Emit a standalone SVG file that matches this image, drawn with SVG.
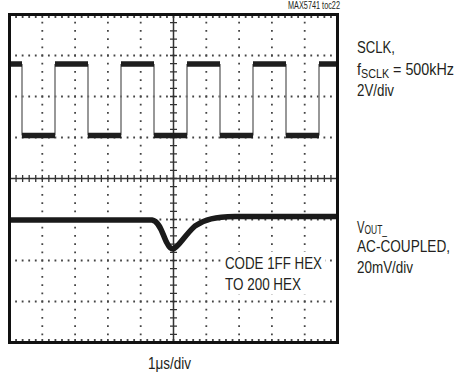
<svg xmlns="http://www.w3.org/2000/svg" width="458" height="377" viewBox="0 0 458 377">
<style>
.t{font-family:"Liberation Sans",Arial,sans-serif;font-size:16px;fill:#231f20}
.grid{stroke:#444;stroke-width:1.8;fill:none}
.gh{stroke-dasharray:1.8 4.76;stroke-dashoffset:0.9}
.gv{stroke-dasharray:1.8 6.4;stroke-dashoffset:0.9}
.axis{stroke:#333;stroke-width:1.5;fill:none}
.band{stroke:#1e1e1e;stroke-width:5.5;fill:none;stroke-linecap:butt}
.edge{stroke:#777;stroke-width:1.5;fill:none}
</style>
<rect width="458" height="377" fill="#fff"/>
<g id="grid">
<g class="grid gh">
<line x1="9.5" y1="55.5" x2="337.5" y2="55.5"/>
<line x1="9.5" y1="96.5" x2="337.5" y2="96.5"/>
<line x1="9.5" y1="137.5" x2="337.5" y2="137.5"/>
<line x1="9.5" y1="219.5" x2="337.5" y2="219.5"/>
<line x1="9.5" y1="260.5" x2="337.5" y2="260.5"/>
<line x1="9.5" y1="301.5" x2="337.5" y2="301.5"/>
<line x1="9.5" y1="17" x2="337.5" y2="17"/>
<line x1="9.5" y1="340" x2="337.5" y2="340"/>
</g>
<g class="grid gv">
<line x1="42.3" y1="14.5" x2="42.3" y2="342.5"/>
<line x1="75.1" y1="14.5" x2="75.1" y2="342.5"/>
<line x1="107.9" y1="14.5" x2="107.9" y2="342.5"/>
<line x1="140.7" y1="14.5" x2="140.7" y2="342.5"/>
<line x1="206.3" y1="14.5" x2="206.3" y2="342.5"/>
<line x1="239.1" y1="14.5" x2="239.1" y2="342.5"/>
<line x1="271.9" y1="14.5" x2="271.9" y2="342.5"/>
<line x1="304.7" y1="14.5" x2="304.7" y2="342.5"/>
</g>
</g>
<g id="axes">
<line class="axis" x1="173.5" y1="14.5" x2="173.5" y2="342.5"/>
<line class="axis" x1="9.5" y1="178.5" x2="337.5" y2="178.5"/>
<line x1="173.5" y1="14.5" x2="173.5" y2="342.5" stroke="#333" stroke-width="7" stroke-dasharray="1.3 6.9" stroke-dashoffset="0.65"/>
<line x1="9.5" y1="178.5" x2="337.5" y2="178.5" stroke="#333" stroke-width="7" stroke-dasharray="1.3 5.26" stroke-dashoffset="0.65"/>
</g>
<g id="sclk-trace">
<path class="edge" d="M22,64V135.5M55,64V135.5M88,64V135.5M121,64V135.5M154,64V135.5M187,64V135.5M220,64V135.5M253,64V135.5M286,64V135.5M319,64V135.5"/>
<path class="band" d="M10,64H22M55,64H88M121,64H154M187,64H220M253,64H286M319,64H337"/>
<path class="band" d="M22,135.5H55M88,135.5H121M154,135.5H187M220,135.5H253M286,135.5H319"/>
</g>
<g id="vout-trace">
<path d="M10,220 L152,220 C160,221 163,236 167,243 C169,247 171,249 173,249 C178,248 184,236 195,226 C205,219 215,217 235,216.5 L337,216.5" stroke="#1a1a1a" stroke-width="5.5" fill="none" stroke-linejoin="round"/>
</g>
<rect id="frame" x="9.5" y="14.5" width="328" height="328" fill="none" stroke="#111" stroke-width="3"/>
<g id="labels">
<text class="t" x="288" y="9" style="font-size:10px" textLength="52" lengthAdjust="spacingAndGlyphs">MAX5741 toc22</text>
<text class="t" x="357" y="53" textLength="38" lengthAdjust="spacingAndGlyphs">SCLK,</text>
<text class="t" x="357" y="75" textLength="97" lengthAdjust="spacingAndGlyphs">f<tspan style="font-size:12px" dy="3">SCLK</tspan><tspan dy="-3"> = 500kHz</tspan></text>
<text class="t" x="357" y="96" textLength="37" lengthAdjust="spacingAndGlyphs">2V/div</text>
<text class="t" x="357" y="233" textLength="30" lengthAdjust="spacingAndGlyphs">V<tspan style="font-size:12px" dy="1">OUT_</tspan></text>
<text class="t" x="357" y="252" textLength="93" lengthAdjust="spacingAndGlyphs">AC-COUPLED,</text>
<text class="t" x="357" y="273" textLength="56" lengthAdjust="spacingAndGlyphs">20mV/div</text>
<rect x="221" y="252" width="104" height="42" fill="#fff"/>
<text class="t" x="225" y="269" textLength="97" lengthAdjust="spacingAndGlyphs">CODE 1FF HEX</text>
<text class="t" x="225" y="290" textLength="76" lengthAdjust="spacingAndGlyphs">TO 200 HEX</text>
<text class="t" x="148" y="369" textLength="43" lengthAdjust="spacingAndGlyphs">1μs/div</text>
</g>
</svg>
